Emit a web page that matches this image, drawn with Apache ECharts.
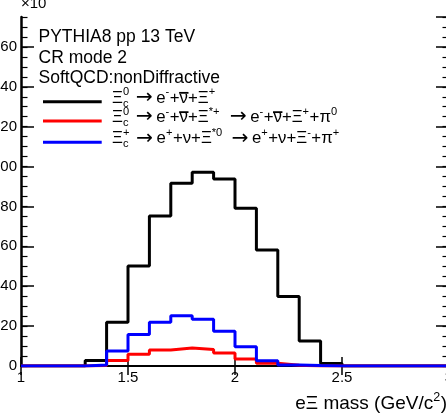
<!DOCTYPE html>
<html><head><meta charset="utf-8">
<script src="https://cdn.jsdelivr.net/npm/echarts@6/dist/echarts.min.js"></script>
<style>html,body{margin:0;padding:0;background:#fff}#c{width:446px;height:417px}</style>
</head><body><div id="c"></div>
<script>
// ---- data ----
const binLowEdges = [1.0,1.1,1.2,1.3,1.4,1.5,1.6,1.7,1.8,1.9,2.0,2.1,2.2,2.3,2.4,2.5,2.6,2.7,2.8,2.9];
const binUpperEnd = 3.0;
const xiC0Direct = [0,0,0,2.7,21.9,50.1,75.2,91.6,97.1,93.8,79.1,58.2,34.8,12.5,1.3,0,0,0,0,0];
const xiC0ViaStar = [0,0,0,0.3,2.7,5.9,8.0,9.0,8.3,6.5,3.5,1.4,0.4,0,0,0,0,0,0,0];
const xiCPlus = [0,0,0,0.5,7.5,15.8,22.0,25.2,23.4,17.4,9.7,2.6,0.5,0.2,0,0,0,0,0,0];
const xTicks = ['1','1.5','2','2.5','3'];
const headerLines = ['PYTHIA8 pp 13 TeV','CR mode 2','SoftQCD:nonDiffractive'];
const seriesColors = ['#000000','#ff0000','#0000ff'];

const FONT = '"Liberation Sans", Arial, Helvetica, sans-serif';
const AFONT = '"DejaVu Sans", sans-serif';
function histPoints(vals){
  const pts = binLowEdges.map((e,i)=>[e, vals[i]]);
  pts.push([binUpperEnd, vals[vals.length-1]]);
  return pts;
}

const cv = document.createElement('canvas').getContext('2d');
function tw(t, s, f){ cv.font = s + 'px ' + (f||FONT); return cv.measureText(t).width; }

// rich line layout: segs = [{t, k:'n'|'sup'|'ss'|'a', t2, ov, pad}]
function richLine(segs, x0, base, s, align){
  const els = [];
  const ss = s*0.66;
  const as = s*1.2;
  let total = 0;
  const widths = segs.map(g=>{
    let w;
    if(g.k==='n') w = tw(g.t, s);
    else if(g.k==='a') w = tw('→', as, AFONT) + 2*tw(' ', s) ;
    else if(g.k==='ss') w = Math.max(tw(g.t, ss), tw(g.t2, ss)) + 1;
    else w = tw(g.t, ss) + 0.5;
    w += (g.pad||0);
    total += w; return w;
  });
  let x = align==='right' ? x0 - total : x0;
  const txt = (t, xx, bl, size, f) => ({type:'text', silent:true, style:{x:xx, y:bl - 0.34*size, text:t, fontSize:size, fontFamily:f||FONT, fill:'#000', verticalAlign:'middle', align:'left'}});
  segs.forEach((g,i)=>{
    if(g.k==='n'){
      els.push(txt(g.t, x, base, s));
      if(g.ov){ els.push({type:'rect', silent:true, shape:{x:x-0.5, y:base-0.70*s, width:widths[i]+1, height:1.8}, style:{fill:'#000'}}); }
    } else if(g.k==='a'){
      els.push(txt('→', x + tw(' ', s) + 1, base + 0.05*as, as, AFONT));
    } else if(g.k==='sup'){
      els.push(txt(g.t, x, base-0.45*s, ss));
    } else {
      els.push(txt(g.t, x, base+0.22*s, ss));
      els.push(txt(g.t2, x, base-0.45*s, ss));
    }
    x += widths[i];
  });
  return els;
}

const N = t=>({k:'n', t});
const SUP = (t,pad)=>({k:'sup', t, pad});
const SS = (a,b)=>({k:'ss', t:a, t2:b});
const AR = {k:'a'};
const NUB = {k:'n', t:'ν', ov:true};
const legendEntries = [
  [N('Ξ'), SS('c','0'), AR, N('e'), SUP('-'), N('+'), NUB, N('+Ξ'), SUP('+')],
  [N('Ξ'), SS('c','0'), AR, N('e'), SUP('-'), N('+'), NUB, N('+Ξ'), SUP('*+',4), AR, N('e'), SUP('-'), N('+'), NUB, N('+Ξ'), SUP('+'), N('+π'), SUP('0')],
  [N('Ξ'), SS('c','+'), AR, N('e'), SUP('+'), N('+ν+Ξ'), SUP('*0',3), AR, N('e'), SUP('+'), N('+ν+Ξ'), SUP('-'), N('+π'), SUP('+')]
];
const legendY = [101.7, 121, 142.3];

const graphics = [];
headerLines.forEach((t,i)=>{
  graphics.push({type:'text', silent:true, style:{x:38.5, y:[43,64,84][i]-0.34*17.5, text:t, fontSize:17.5, fontFamily:FONT, fill:'#000', verticalAlign:'middle'}});
});
legendEntries.forEach((segs,i)=>{
  graphics.push({type:'line', silent:true, shape:{x1:43, y1:legendY[i], x2:101.7, y2:legendY[i]}, style:{stroke:seriesColors[i], lineWidth:3}});
  graphics.push(...richLine(segs, 112, legendY[i]+2, 16.8, 'left'));
});
graphics.push(...richLine([N('eΞ mass (GeV/c'), SUP('2'), N(')')], 447, 410, 19, 'right'));
graphics.push({type:'text', silent:true, style:{x:21, y:9-0.34*15, text:'×10', fontSize:15, fontFamily:FONT, fill:'#000', verticalAlign:'middle'}});

const axLabel = {fontSize:15, color:'#000', fontFamily:FONT};
const yBase = {type:'value', min:0, max:175, splitLine:{show:false}};
const option = {
  animation:false,
  backgroundColor:'#fff',
  grid:{left:21, top:17, right:-3, bottom:51, containLabel:false, outerBoundsMode:'none'},
  xAxis:[
    {type:'value', min:1, max:3, interval:0.5, position:'bottom', splitLine:{show:false},
     axisLine:{lineStyle:{color:'#000', width:2}},
     axisTick:{inside:true, length:9, lineStyle:{color:'#000', width:1.5}},
     axisLabel:Object.assign({margin:4, formatter:(v)=>{const s=String(Math.round(v*10)/10); return xTicks.includes(s)?s:'';}}, axLabel)},
    {type:'value', min:1, max:3, interval:0.5, position:'top', splitLine:{show:false},
     axisLine:{lineStyle:{color:'#000', width:1.5}},
     axisTick:{inside:true, length:9, lineStyle:{color:'#000', width:1.5}},
     axisLabel:{show:false}}
  ],
  yAxis:[
    Object.assign({}, yBase, {position:'left', interval:20,
      axisLine:{show:true, lineStyle:{color:'#000', width:2.5}},
      axisTick:{inside:true, length:13, lineStyle:{color:'#000', width:1.5}},
      axisLabel:Object.assign({margin:4, showMaxLabel:false}, axLabel)}),
    Object.assign({}, yBase, {position:'left', interval:5,
      axisLine:{show:false},
      axisTick:{inside:true, length:6.5, lineStyle:{color:'#000', width:1.2}},
      axisLabel:{show:false}}),
    Object.assign({}, yBase, {position:'right', interval:20,
      axisLine:{show:true, lineStyle:{color:'#000', width:2}},
      axisTick:{inside:true, length:13, lineStyle:{color:'#000', width:1.5}},
      axisLabel:{show:false}}),
    Object.assign({}, yBase, {position:'right', interval:5,
      axisLine:{show:false},
      axisTick:{inside:true, length:6.5, lineStyle:{color:'#000', width:1.2}},
      axisLabel:{show:false}})
  ],
  series:[xiC0Direct, xiC0ViaStar, xiCPlus].map((v,i)=>({
    type:'line', step:'end', data:histPoints(v), showSymbol:false, xAxisIndex:0, yAxisIndex:0,
    lineStyle:{color:seriesColors[i], width:3}, itemStyle:{color:seriesColors[i]}, z:2+i
  })),
  graphic:graphics
};
const chart = echarts.init(document.getElementById('c'), null, {renderer:'canvas'});
chart.setOption(option);
</script></body></html>
